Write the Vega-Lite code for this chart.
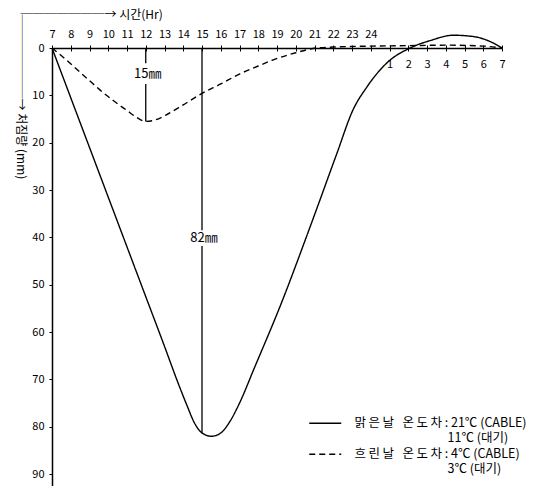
{
  "$schema": "https://vega.github.io/schema/vega-lite/v6.json",
  "width": 450,
  "height": 438,
  "autosize": {"type": "none"},
  "padding": {"left": 52, "top": 48, "right": 44, "bottom": 0},
  "background": "white",
  "config": {
    "view": {"stroke": null},
    "font": "Noto Sans CJK KR",
    "axis": {"domainColor": "black", "tickColor": "black", "labelColor": "black", "titleColor": "black", "grid": false, "labelFont": "Noto Sans CJK KR", "titleFont": "Noto Sans CJK KR", "labelFontSize": 11}
  },
  "datasets": {
    "curves": [
      {"s": "맑은날", "h": 7, "d": 0},
      {"s": "맑은날", "h": 8, "d": 10.5},
      {"s": "맑은날", "h": 9, "d": 21},
      {"s": "맑은날", "h": 10, "d": 31.5},
      {"s": "맑은날", "h": 11, "d": 42},
      {"s": "맑은날", "h": 12, "d": 52.5},
      {"s": "맑은날", "h": 13, "d": 63},
      {"s": "맑은날", "h": 13.7, "d": 70.5},
      {"s": "맑은날", "h": 14.2, "d": 75.5},
      {"s": "맑은날", "h": 14.6, "d": 79.2},
      {"s": "맑은날", "h": 15, "d": 81.3},
      {"s": "맑은날", "h": 15.5, "d": 82},
      {"s": "맑은날", "h": 16, "d": 81.3},
      {"s": "맑은날", "h": 16.5, "d": 78.8},
      {"s": "맑은날", "h": 17, "d": 75},
      {"s": "맑은날", "h": 17.8, "d": 67.5},
      {"s": "맑은날", "h": 19.2, "d": 54.2},
      {"s": "맑은날", "h": 20.8, "d": 37.4},
      {"s": "맑은날", "h": 22.2, "d": 22.2},
      {"s": "맑은날", "h": 23.05, "d": 13.1},
      {"s": "맑은날", "h": 23.8, "d": 8.2},
      {"s": "맑은날", "h": 24.9, "d": 3.0},
      {"s": "맑은날", "h": 26.1, "d": 0},
      {"s": "맑은날", "h": 27.2, "d": -1.6},
      {"s": "맑은날", "h": 28.4, "d": -2.7},
      {"s": "맑은날", "h": 29.5, "d": -2.4},
      {"s": "맑은날", "h": 30.4, "d": -1.3},
      {"s": "맑은날", "h": 31, "d": 0},
      {"s": "흐린날", "h": 7, "d": 0},
      {"s": "흐린날", "h": 7.7, "d": 2.3},
      {"s": "흐린날", "h": 8.35, "d": 4.6},
      {"s": "흐린날", "h": 9.0, "d": 6.9},
      {"s": "흐린날", "h": 9.6, "d": 9.0},
      {"s": "흐린날", "h": 10.3, "d": 11.2},
      {"s": "흐린날", "h": 11.0, "d": 13.2},
      {"s": "흐린날", "h": 11.5, "d": 14.6},
      {"s": "흐린날", "h": 12, "d": 15.5},
      {"s": "흐린날", "h": 12.5, "d": 15.2},
      {"s": "흐린날", "h": 13.1, "d": 14.1},
      {"s": "흐린날", "h": 14, "d": 12.0},
      {"s": "흐린날", "h": 15, "d": 9.6},
      {"s": "흐린날", "h": 16, "d": 7.6},
      {"s": "흐린날", "h": 17, "d": 5.5},
      {"s": "흐린날", "h": 18, "d": 3.8},
      {"s": "흐린날", "h": 18.8, "d": 2.5},
      {"s": "흐린날", "h": 20, "d": 1.0},
      {"s": "흐린날", "h": 21.1, "d": 0},
      {"s": "흐린날", "h": 22, "d": -0.2},
      {"s": "흐린날", "h": 24, "d": -0.4},
      {"s": "흐린날", "h": 26, "d": -0.5},
      {"s": "흐린날", "h": 28, "d": -0.6},
      {"s": "흐린날", "h": 30, "d": -0.4},
      {"s": "흐린날", "h": 31, "d": 0}
    ],
    "rules": [
      {"h": 12, "d": 0, "d2": 3.2},
      {"h": 12, "d": 7.6, "d2": 15.5},
      {"h": 15, "d": 0, "d2": 38.5},
      {"h": 15, "d": 41.8, "d2": 81.3}
    ],
    "notes": [
      {"h": 12, "d": 5.5, "t": "15㎜"},
      {"h": 15, "d": 40.1, "t": "82㎜"}
    ]
  },
  "layer": [
    {
      "data": {"name": "curves"},
      "mark": {"type": "line", "interpolate": "monotone", "strokeWidth": 1.4, "color": "black"},
      "encoding": {
        "x": {
          "field": "h", "type": "quantitative",
          "scale": {"domain": [7, 31], "nice": false, "zero": false},
          "axis": {
            "orient": "top",
            "values": [7,8,9,10,11,12,13,14,15,16,17,18,19,20,21,22,23,24,25,26,27,28,29,30,31],
            "labelExpr": "datum.value <= 24 ? datum.value : ''",
            "tickSize": 3, "labelPadding": 6, "labelFlush": false, "labelOverlap": false,
            "domainWidth": 1.5,
            "title": "───────→  시간(Hr)",
            "titleX": -32, "titleY": -34, "titleAlign": "left", "titleBaseline": "middle", "titleAngle": 0,
            "titleFontSize": 12, "titleFontWeight": "normal"
          }
        },
        "y": {
          "field": "d", "type": "quantitative",
          "scale": {"domain": [0, 92.5], "nice": false, "zero": false, "reverse": true},
          "axis": {
            "orient": "left",
            "values": [0,10,20,30,40,50,60,70,80,90],
            "tickSize": 3, "labelPadding": 5, "labelFlush": false,
            "domainWidth": 1.5,
            "title": "───────→  처짐량 (mm)",
            "titleAngle": 90, "titleX": -32, "titleY": -34, "titleAlign": "left", "titleBaseline": "middle",
            "titleFontSize": 12, "titleFontWeight": "normal"
          }
        },
        "strokeDash": {
          "field": "s", "type": "nominal",
          "scale": {"domain": ["맑은날", "흐린날"], "range": [[1, 0], [6, 4]]},
          "legend": {
            "orient": "none", "legendX": 267, "legendY": 369,
            "title": null,
            "symbolType": "M-3.2,0H3.2", "symbolSize": 100, "symbolStrokeWidth": 1.4, "symbolStrokeColor": "black", "symbolFillColor": "transparent",
            "labelFont": "Noto Sans CJK KR", "labelFontSize": 12.5, "labelColor": "black", "labelLimit": 400,
            "labelOffset": 23, "rowPadding": 3,
            "labelExpr": "datum.label == '맑은날' ? ['맑\u2009은\u2009날\u00a0\u00a0\u00a0온\u2009도\u2009차 :  21℃ (CABLE)', '\u200b\u3000\u3000\u3000\u3000\u3000\u3000\u3000\u00a0\u00a011℃ (대기)'] : ['흐\u2009린\u2009날\u00a0\u00a0\u00a0온\u2009도\u2009차 :  4℃ (CABLE)', '\u200b\u3000\u3000\u3000\u3000\u3000\u3000\u3000\u00a0\u00a03℃ (대기)']"
          }
        }
      }
    },
    {
      "data": {"name": "rules"},
      "mark": {"type": "rule", "color": "black", "strokeWidth": 1.3},
      "encoding": {
        "x": {
          "field": "h", "type": "quantitative",
          "axis": {
            "orient": "bottom", "offset": -438,
            "values": [7,8,9,10,11,12,13,14,15,16,17,18,19,20,21,22,23,24,25,26,27,28,29,30,31],
            "labelExpr": "datum.value > 24 ? datum.value - 24 : ''",
            "tickSize": 3, "labelPadding": 7, "domain": false, "title": null,
            "labelFlush": false, "labelOverlap": false
          }
        },
        "y": {"field": "d", "type": "quantitative"},
        "y2": {"field": "d2"}
      }
    },
    {
      "data": {"name": "notes"},
      "mark": {"type": "text", "font": "Noto Sans CJK KR", "fontSize": 13, "align": "center", "baseline": "middle", "dx": 2, "color": "black"},
      "encoding": {
        "x": {"field": "h", "type": "quantitative", "axis": null},
        "y": {"field": "d", "type": "quantitative"},
        "text": {"field": "t"}
      }
    }
  ],
  "resolve": {"axis": {"x": "independent"}}
}
